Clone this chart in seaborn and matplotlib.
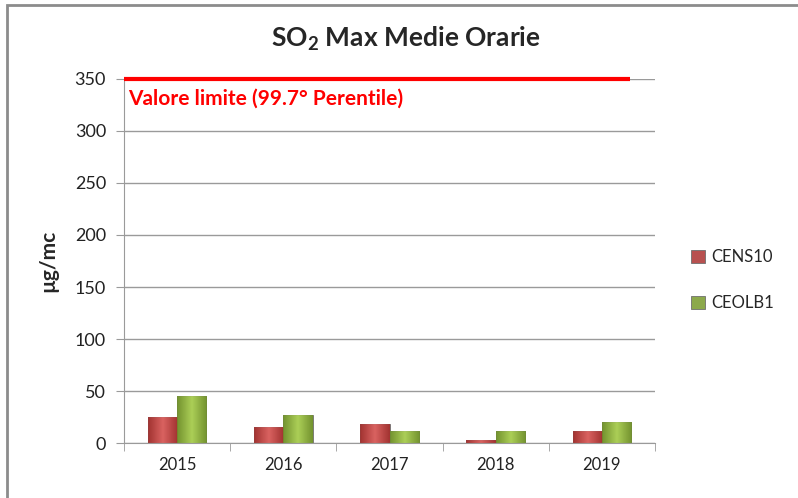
import numpy as np
import seaborn as sns
import pandas as pd
import matplotlib.pyplot as plt
from matplotlib.patches import Rectangle
from matplotlib.colors import LinearSegmentedColormap

# valori (µg/mc)
anni = ['2015', '2016', '2017', '2018', '2019']
cens10 = [25, 15, 18, 3, 12]
ceolb1 = [45, 27, 12, 12, 20]
limite = 350

colori = {'CENS10': '#c9403f', 'CEOLB1': '#92b83c'}
sfumature = {'CENS10': ['#9e2e2c', '#e06664', '#9e2e2c'],
             'CEOLB1': ['#6f8f2a', '#b2d65a', '#6f8f2a']}

df = pd.DataFrame({
    'Anno': anni * 2,
    'Valore': cens10 + ceolb1,
    'Stazione': ['CENS10'] * len(anni) + ['CEOLB1'] * len(anni),
})

sns.set_style('white')
plt.rcParams['font.family'] = ['Lato', 'DejaVu Sans']
plt.rcParams['mathtext.fontset'] = 'custom'
plt.rcParams['mathtext.rm'] = 'Lato:bold'
plt.rcParams['mathtext.bf'] = 'Lato:bold'

fig = plt.figure(figsize=(7.98, 4.98), dpi=100)
ax = fig.add_axes([0.1554, 0.1104, 0.6654, 0.731])

sns.barplot(data=df, x='Anno', y='Valore', hue='Stazione', palette=colori,
            width=0.55, gap=0, edgecolor='#6f6f6f', linewidth=0.6, ax=ax)

# effetto "rilievo" delle barre
for cont, nome in zip(ax.containers, ['CENS10', 'CEOLB1']):
    cmap = LinearSegmentedColormap.from_list(nome, sfumature[nome])
    grad = np.linspace(0, 1, 64).reshape(1, -1)
    for bar in cont:
        x0, y0 = bar.get_x(), bar.get_y()
        w, hgt = bar.get_width(), bar.get_height()
        im = ax.imshow(grad, cmap=cmap, extent=(x0, x0 + w, y0, y0 + hgt),
                       aspect='auto', zorder=bar.get_zorder() + 0.1, alpha=0.85)
        im.set_clip_path(bar)

ax.set_xlim(-0.5, 4.5)
ax.set_ylim(0, 350)
ax.set_yticks(range(0, 351, 50))
ax.yaxis.grid(True, color='#9a9a9a', linewidth=1)
ax.set_axisbelow(True)
for s in ['top', 'right']:
    ax.spines[s].set_visible(False)
for s in ['left', 'bottom']:
    ax.spines[s].set_color('#9a9a9a')
ax.tick_params(axis='y', length=6, color='#9a9a9a', labelsize=13, labelcolor='#222222',
               left=True, pad=7)
ax.set_xticks(range(5))
ax.set_xticks([x + 0.5 for x in range(-1, 5)], minor=True)
ax.tick_params(axis='x', which='major', length=0, labelsize=12, labelcolor='#222222', pad=10)
ax.tick_params(axis='x', which='minor', length=6, color='#9a9a9a', bottom=True)
ax.set_xlabel('')
ax.set_ylabel('µg/mc', fontsize=15, fontweight='bold', labelpad=12)

# linea del valore limite
ax.hlines(limite, -0.5, 4.26, color='#ff0000', linewidth=3, zorder=5, clip_on=False)
ax.text(-0.46, 331, 'Valore limite (99.7° Perentile)', color='#ff0000',
        fontsize=15, fontweight='bold', va='center')

fig.text(0.508, 0.9076, r'SO$_2$ Max Medie Orarie', fontsize=19, fontweight='bold',
         ha='center', va='baseline')

h, l = ax.get_legend_handles_labels()
ax.legend(h, l, loc='center left', bbox_to_anchor=(1.04, 0.448), frameon=False,
          fontsize=12, handlelength=0.8, handleheight=0.8, labelspacing=1.8,
          handletextpad=0.4)

fig.patches.append(Rectangle((0.009, -0.05), 1.2, 1.04, transform=fig.transFigure,
                             fill=False, edgecolor='#8c8c8c', linewidth=2))

fig.savefig('out.png', dpi=100)
